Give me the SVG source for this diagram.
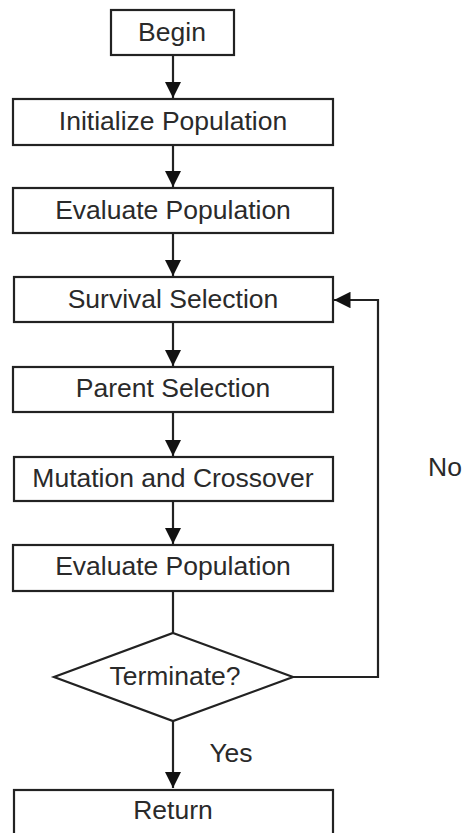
<svg xmlns="http://www.w3.org/2000/svg" width="466" height="833" viewBox="0 0 466 833">
<style>
.box{fill:#fff;stroke:#222;stroke-width:2.2}
.t{font-family:"Liberation Sans",Arial,sans-serif;font-size:26.5px;fill:#2a2a2a;text-anchor:middle;dominant-baseline:central}
.c{fill:none;stroke:#222;stroke-width:2.2}
</style>
<defs>
<marker id="ah" viewBox="0 0 10 10" refX="10" refY="5" markerWidth="7.5" markerHeight="7.5" orient="auto" markerUnits="strokeWidth">
<path d="M0,0 L10,5 L0,10 z" fill="#111"/>
</marker>
</defs>
<rect width="466" height="833" fill="#fff"/>
<g id="connectors">
<line class="c" x1="173" y1="55" x2="173" y2="98" marker-end="url(#ah)"/>
<line class="c" x1="173" y1="145" x2="173" y2="187" marker-end="url(#ah)"/>
<line class="c" x1="173" y1="233" x2="173" y2="276" marker-end="url(#ah)"/>
<line class="c" x1="173" y1="322" x2="173" y2="366" marker-end="url(#ah)"/>
<line class="c" x1="173" y1="412" x2="173" y2="456" marker-end="url(#ah)"/>
<line class="c" x1="173" y1="501" x2="173" y2="544" marker-end="url(#ah)"/>
<line class="c" x1="173" y1="591" x2="173" y2="633"/>
<line class="c" x1="173" y1="721" x2="173" y2="788" marker-end="url(#ah)"/>
<polyline class="c" points="293,677 378,677 378,300 334,300" marker-end="url(#ah)"/>
<text class="t" x="231" y="753">Yes</text>
<text class="t" x="445" y="467">No</text>
</g>
<g id="begin"><rect class="box" x="111" y="10" width="123" height="45"/><text class="t" x="172" y="32">Begin</text></g>
<g id="init"><rect class="box" x="13" y="99" width="320" height="46"/><text class="t" x="173" y="121">Initialize Population</text></g>
<g id="eval1"><rect class="box" x="13" y="188" width="320" height="45"/><text class="t" x="173" y="210">Evaluate Population</text></g>
<g id="survival"><rect class="box" x="14" y="277" width="319" height="45"/><text class="t" x="173" y="299">Survival Selection</text></g>
<g id="parent"><rect class="box" x="13" y="367" width="320" height="45"/><text class="t" x="173" y="388">Parent Selection</text></g>
<g id="mutation"><rect class="box" x="14" y="457" width="319" height="44"/><text class="t" x="173" y="478">Mutation and Crossover</text></g>
<g id="eval2"><rect class="box" x="13" y="545" width="320" height="46"/><text class="t" x="173" y="566">Evaluate Population</text></g>
<g id="terminate"><polygon class="box" points="173,633 293,677 173,721 54,677"/><text class="t" x="175" y="676">Terminate?</text></g>
<g id="return"><rect class="box" x="14" y="790" width="319" height="50"/><text class="t" x="173" y="810">Return</text></g>
</svg>
